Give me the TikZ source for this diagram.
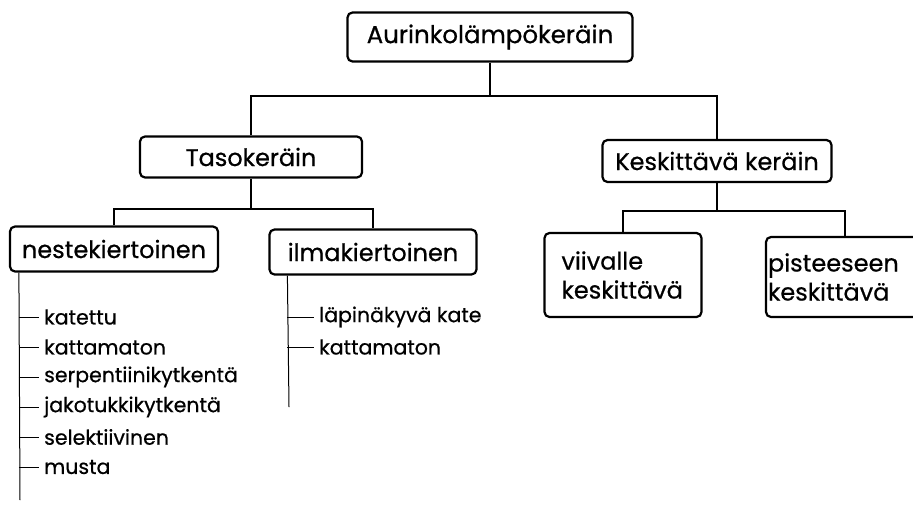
\documentclass[tikz,border=0pt]{standalone}
\usepackage{fontspec}
\setmainfont{Poppins}
\newfontfamily\scanfont{Poppins}[FakeBold=0.6]
\usetikzlibrary{positioning}

\begin{document}
\begin{tikzpicture}[x=1pt,y=-1pt,
  box/.style={draw, line width=2.2pt, rounded corners=5pt, align=center, inner sep=2pt, font=\scanfont\fontsize{24}{29}\selectfont},
  rootbox/.style={box, font=\scanfont\fontsize{24.5}{28}\selectfont},
  link/.style={draw, line width=2pt},
  item/.style={font=\scanfont\fontsize{20.5}{22}\selectfont, inner xsep=3pt, inner ysep=1pt, anchor=west},
  tick/.style={draw, line width=1pt}]

\useasboundingbox (0,0) rectangle (913,509);

% BOXES

\node [rootbox, minimum width=285pt, minimum height=49pt] (root) at (490,37) {Aurinkolämpökeräin};

\node [box, minimum width=222pt, minimum height=41pt] (taso) at (251,157) {Tasokeräin};
\node [box, minimum width=229pt, minimum height=42pt] (kesk) at (717,161) {Keskittävä keräin};

\node [box, minimum width=208pt, minimum height=45pt] (neste) at (114,249) {nestekiertoinen};
\node [box, minimum width=207pt, minimum height=45pt] (ilma) at (373,252) {ilmakiertoinen};

\node [box, align=left, inner xsep=17pt, text width=123pt, minimum height=84pt] (viiva) at (623,275) {viivalle\\keskittävä};
\node [box, align=left, text width=154pt, minimum height=80pt] (piste) at (845,277) {pisteeseen\\keskittävä};

% LINKS

\draw [link] (root.south) -- ++(0,33) coordinate (j1);
\draw [link] (taso.north) |- (j1) -| (kesk.north);

\draw [link] (taso.south) -- ++(0,30) coordinate (j2);
\draw [link] (neste.north) |- (j2) -| (ilma.north);

\draw [link] (kesk.south) -- ++(0,28) coordinate (j3);
\draw [link] (viiva.north) |- (j3) -| (piste.north);

% LISTS

\node [item] (n1) at (41,317) {katettu};
\node [item, below=30pt of n1.west, anchor=west] (n2) {kattamaton};
\node [item, below=30pt of n2.west, anchor=west] (n3) {serpentiinikytkentä};
\node [item, below=30pt of n3.west, anchor=west] (n4) {jakotukkikytkentä};
\node [item, below=30pt of n4.west, anchor=west] (n5) {selektiivinen};
\node [item, below=30pt of n5.west, anchor=west] (n6) {musta};

\node [item] (i1) at (316,317) {läpinäkyvä kate};
\node [item, below=30pt of i1.west, anchor=west] (i2) {kattamaton};

\coordinate (nt) at ([xshift=10pt]neste.south west);
\coordinate (ntend) at (20,500);
\coordinate (it) at ([xshift=19pt]ilma.south west);
\coordinate (itend) at (289,407);

\draw [tick] (nt) -- (ntend);
\draw [tick] (it) -- (itend);

\foreach \n in {n1,n2,n3,n4,n5,n6}
  \draw [tick] (\n.west -| nt) -- ([xshift=-2pt]\n.west);
\foreach \n in {i1,i2}
  \draw [tick] (\n.west -| it) -- ([xshift=-2pt]\n.west);

\end{tikzpicture}
\end{document}
